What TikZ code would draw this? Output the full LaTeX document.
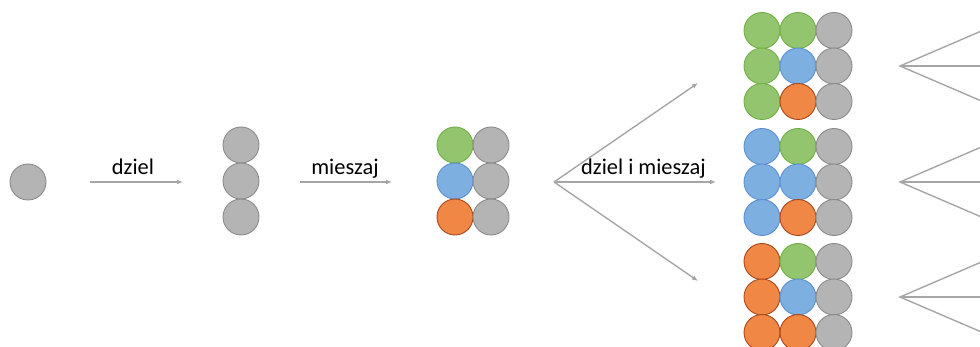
\documentclass[tikz,border=0pt]{standalone}
\usepackage{fontspec}
\setmainfont{Carlito}
\usetikzlibrary{arrows.meta}
\definecolor{grayfill}{HTML}{B4B4B4}
\definecolor{graydraw}{HTML}{8A8A8A}
\definecolor{greenfill}{HTML}{92C56E}
\definecolor{greendraw}{HTML}{72AE48}
\definecolor{bluefill}{HTML}{7DAFE1}
\definecolor{bluedraw}{HTML}{5A8FD0}
\definecolor{orangefill}{HTML}{F18744}
\definecolor{orangedraw}{HTML}{A8461C}
\definecolor{arrowgray}{HTML}{A6A6A6}
\tikzset{
  ball/.style={circle, minimum size=36pt, inner sep=0pt, line width=0.9pt},
  gb/.style={ball, fill=grayfill, draw=graydraw},
  grb/.style={ball, fill=greenfill, draw=greendraw},
  bb/.style={ball, fill=bluefill, draw=bluedraw},
  ob/.style={ball, fill=orangefill, draw=orangedraw},
  flow/.style={draw=arrowgray, line width=1.4pt, -{Latex[length=6pt,width=5pt]}},
  ray/.style={draw=arrowgray, line width=1.4pt},
  lbl/.style={font=\fontsize{22.4pt}{26pt}\selectfont, inner sep=0pt, anchor=base}
}
\begin{document}
\begin{tikzpicture}[x=1pt, y=-1pt]
\useasboundingbox (0,0) rectangle (980,347);
\clip (0,0) rectangle (980,347);

% single drop
\node[gb] (s0) at (28,182) {};

% first split
\coordinate (a1s) at (90,182);
\coordinate (a1e) at (183,182);
\draw[flow] (a1s) -- (a1e);
\node[lbl] (t1) at (133,175) {dziel};

\node[gb] (c1) at (241,145) {};
\node[gb] (c2) at (241,181) {};
\node[gb] (c3) at (241,217) {};

% mixing
\coordinate (a2s) at (300,182);
\coordinate (a2e) at (392,182);
\draw[flow] (a2s) -- (a2e);
\node[lbl] (t2) at (345,175) {mieszaj};

\node[grb] (m1) at (455,145) {};
\node[gb]  (n1) at (491,145) {};
\node[bb]  (m2) at (455,181) {};
\node[gb]  (n2) at (491,181) {};
\node[ob]  (m3) at (455,217) {};
\node[gb]  (n3) at (491,217) {};

% split and mix fan
\coordinate (f0) at (554,182);
\coordinate (fu) at (698,83);
\coordinate (fm) at (716,182);
\coordinate (fd) at (698,281);
\draw[flow] (f0) -- (fu);
\draw[flow] (f0) -- (fm);
\draw[flow] (f0) -- (fd);
\node[lbl] (t3) at (643.5,175) {dziel i mieszaj};

% nine combinations
\foreach \g/\st/\yc in {1/grb/66, 2/bb/182, 3/ob/297} {
  \node[\st]  (r\g a1) at (762,\yc-35.5) {};
  \node[grb]  (r\g b1) at (798,\yc-35.5) {};
  \node[gb]   (r\g c1) at (834,\yc-35.5) {};
  \node[\st]  (r\g a2) at (762,\yc) {};
  \node[bb]   (r\g b2) at (798,\yc) {};
  \node[gb]   (r\g c2) at (834,\yc) {};
  \node[\st]  (r\g a3) at (762,\yc+35.5) {};
  \node[ob]   (r\g b3) at (798,\yc+35.5) {};
  \node[gb]   (r\g c3) at (834,\yc+35.5) {};
  % next fan, running off the edge
  \coordinate (g\g o) at (900,\yc);
  \coordinate (g\g u) at (1000,\yc-43);
  \coordinate (g\g m) at (1000,\yc);
  \coordinate (g\g d) at (1000,\yc+43);
  \draw[ray] (g\g u) -- (g\g o) -- (g\g d);
  \draw[ray] (g\g o) -- (g\g m);
}
\end{tikzpicture}
\end{document}
